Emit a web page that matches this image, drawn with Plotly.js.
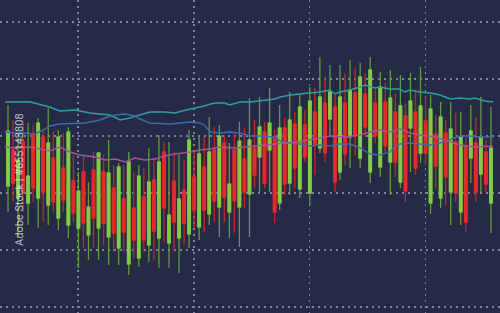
<!DOCTYPE html>
<html>
<head>
<meta charset="utf-8">
<script src="https://cdn.plot.ly/plotly-3.0.1.min.js"></script>
<style>html,body{margin:0;padding:0;background:#252a46;}#chart{width:500px;height:313px;}</style>
</head>
<body>
<div id="chart"></div>
<script>
// Candle OHLC values (index 0..96)
const openV  = [114,150,102,158,97,166,102,163,95,142,82,132,75,119,72,128,65,130,72,128,63,112,52,101,36,92,42,103,55,120,62,148,57,119,62,110,66,123,73,133,86,150,93,157,88,150,93,141,106,152,143,168,150,162,97,172,117,176,111,175,107,188,152,197,181,193,128,197,163,207,142,206,128,197,133,198,138,188,118,184,172,188,147,179,97,166,102,167,108,158,88,153,142,157,126,148,97];
const highV  = [195,180,168,177,177,175,182,170,192,168,170,167,173,145,128,145,118,148,148,145,160,135,137,135,148,128,135,132,152,142,165,158,158,148,145,140,170,148,165,163,183,173,175,165,157,167,178,172,202,180,203,178,212,170,195,182,208,188,205,190,213,212,243,223,235,205,235,227,240,232,237,227,243,212,228,217,230,207,225,197,227,210,233,203,205,185,198,180,198,187,188,163,195,183,203,160,193];
const lowV   = [88,98,63,88,75,98,72,78,75,88,70,88,62,78,32,52,40,52,40,55,35,48,35,48,25,42,33,48,38,40,32,58,32,48,27,55,52,72,60,68,75,78,63,78,62,67,53,92,63,112,108,112,108,77,90,105,105,112,102,138,95,125,147,138,165,108,120,135,132,145,132,163,117,157,123,148,105,123,112,98,128,125,137,135,86,112,92,95,75,98,75,68,117,98,108,107,67];
const closeV = [169,117,140,108,124,112,177,108,157,98,163,100,168,87,109,77,93,82,147,77,127,67,133,68,138,60,124,60,118,69,138,92,85,78,101,77,160,90,146,90,148,99,164,103,116,99,159,108,160,125,173,117,177,88,172,116,180,132,193,143,199,155,203,147,208,118,203,146,210,164,223,173,230,164,213,154,202,138,194,109,199,132,194,147,191,134,183,123,171,107,163,78,169,108,163,116,152];

// Indicator lines (x in candle-index units)
const tealX = [-0.6,1.4,4.4,8.3,10.3,13.3,16.3,20.3,22.3,24.2,26.2,28.2,31.2,33.2,36.2,38.2,41.1,43.1,44.1,46.1,48.1,51.1,53.1,54.1,56.1,58.0,60.0,62.0,64.0,65.0,66.0,68.0,70.0,71.0,72.9,73.9,75.9,77.9,78.9,79.9,81.9,83.9,85.9,86.9,87.9,89.8,91.8,92.8,94.8,96.4];
const tealY = [198,198,198,193,189,190,187,185,180,182,185,188,188,187,191,193,197,197,195,198,198,200,201,203,205,206,207,208,210,206,208,210,213,215,212,213,211,211,208,210,208,207,205,203,201,202,201,202,199,198];
const blueX = [-0.6,1.4,3.4,5.4,7.4,8.3,10.3,13.3,15.3,18.3,20.3,21.3,23.3,25.2,26.2,28.2,31.2,32.2,34.2,36.2,38.2,39.2,40.2,42.1,44.1,46.1,48.1,50.1,53.1,54.1,56.1,58.0,60.0,62.0,64.0,66.0,68.0,70.0,72.0,73.9,75.9,76.9,77.9,79.9,81.9,83.9,85.9,87.9,89.8,91.8,93.8,96.4];
const blueY = [168,167,167,166,171,174,176,177,177,180,184,185,186,184,181,177,176,176,177,178,177,174,168,167,168,167,164,164,163,159,157,156,154,155,154,156,156,152,146,145,148,153,156,157,156,155,157,161,164,164,163,163];
const pinkX = [-0.6,1.4,4.4,6.4,8.3,10.3,12.3,14.3,17.3,19.3,21.3,23.3,25.2,27.2,29.2,31.2,33.2,36.2,38.2,40.2,42.1,45.1,47.1,50.1,53.1,56.1,59.0,61.0,64.0,67.0,70.0,72.0,73.9,75.9,77.9,79.9,81.9,84.9,86.9,89.8,92.8,96.4];
const pinkY = [153,152,153,151,149,153,148,145,143,140,141,138,142,140,141,144,146,148,150,151,153,152,153,155,156,157,159,161,164,163,165,168,170,168,171,167,165,163,160,155,153,154];

const idx = openV.map((_, i) => i);
const bodyHigh = openV.map((o, i) => Math.max(o, closeV[i]));
const bodyLow = openV.map((o, i) => Math.min(o, closeV[i]));

const greenBody = '#7fd03f', greenWick = '#5f9c3a';
const redBody = '#f2232a', redWick = '#cf2029';

const traces = [
  { type: 'scatter', mode: 'lines', x: tealX, y: tealY, line: {color: '#2aa0a0', width: 1.4}, hoverinfo: 'skip' },
  { type: 'scatter', mode: 'lines', x: blueX, y: blueY, line: {color: '#3a6cb2', width: 1.4}, hoverinfo: 'skip' },
  { type: 'scatter', mode: 'lines', x: pinkX, y: pinkY, line: {color: '#a8529e', width: 1.4}, hoverinfo: 'skip' },
  { type: 'candlestick', x: idx, open: openV, high: highV, low: lowV, close: closeV,
    increasing: {line: {color: greenWick, width: 1.3}, fillcolor: greenWick},
    decreasing: {line: {color: redWick, width: 1.3}, fillcolor: redWick},
    whiskerwidth: 0, hoverinfo: 'skip' },
  { type: 'candlestick', x: idx, open: openV, high: bodyHigh, low: bodyLow, close: closeV,
    increasing: {line: {color: greenBody, width: 1}, fillcolor: greenBody},
    decreasing: {line: {color: redBody, width: 1}, fillcolor: redBody},
    whiskerwidth: 0, hoverinfo: 'skip' }
];

const layout = {
  width: 500, height: 313,
  margin: {l: 0, r: 0, t: 0, b: 0},
  paper_bgcolor: '#252a46', plot_bgcolor: '#252a46',
  showlegend: false,
  boxgap: 0.25,
  xaxis: {range: [-1.59, 97.8], showticklabels: false, zeroline: false, showline: false,
    rangeslider: {visible: false}, showgrid: true, tick0: 13.91, dtick: 23.02,
    gridcolor: '#7f839e', griddash: '2px,4px', gridwidth: 1.5, ticks: ''},
  yaxis: {range: [-13, 300], showticklabels: false, zeroline: false, showline: false,
    showgrid: true, tick0: 50, dtick: 57,
    gridcolor: '#7f839e', griddash: '2px,4px', gridwidth: 1.5, ticks: ''},
  annotations: [{
    text: 'Adobe Stock | #655143808', xref: 'paper', yref: 'paper',
    x: 11 / 500, y: 1 - 248 / 313, showarrow: false, textangle: -90,
    font: {family: 'Roboto, sans-serif', size: 11, color: 'rgba(225,226,235,0.8)'}
  }]
};

Plotly.newPlot('chart', traces, layout, {staticPlot: true, displayModeBar: false});
</script>
</body>
</html>
